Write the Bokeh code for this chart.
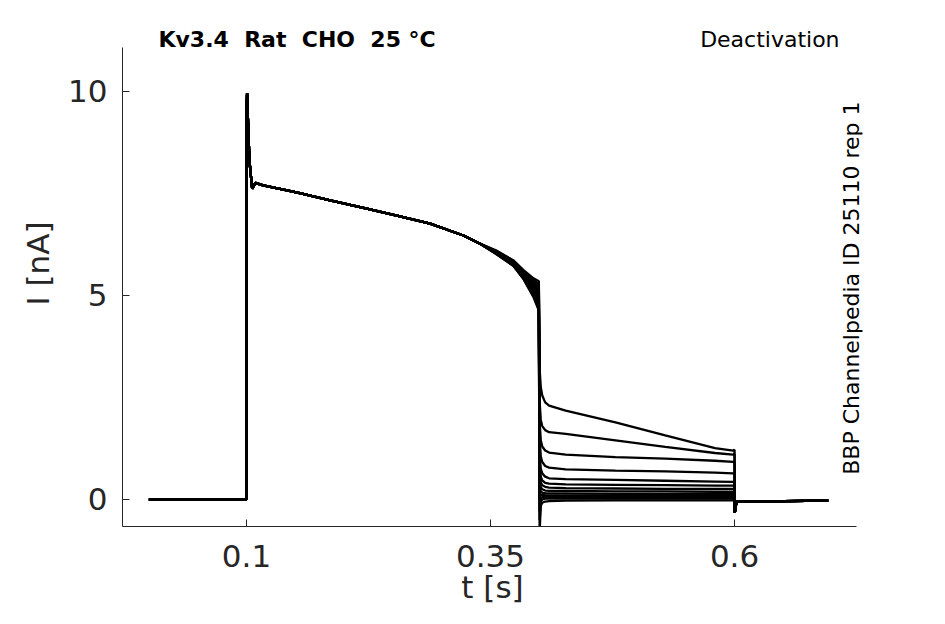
import math
from bokeh.plotting import figure
from bokeh.models import Label, FixedTicker, Range1d
from bokeh.embed import file_html
from bokeh.resources import INLINE

# ---------------- data ----------------
# holding period before the step
t_pre = [0.0, 0.048, 0.0485, 0.1]
i_pre = [0.0, -0.01, 0.0, 0.0]

# common activation phase (all sweeps overlap here)
t_act = [0.1002, 0.1006, 0.1012, 0.1030, 0.1058, 0.1092, 0.1171, 0.1512,
         0.1857, 0.2198, 0.2540, 0.2881, 0.3222, 0.3393]
i_act = [9.6, 9.95, 9.5, 8.3, 7.62, 7.76, 7.70, 7.53,
         7.33, 7.15, 6.96, 6.76, 6.47, 6.27]

# end of the activation phase, per sweep (band spreads out)
t_late = [0.356, 0.3735, 0.3838, 0.394, 0.3995]
i_late = [
    [6.10, 5.86, 5.62, 5.42, 5.35],
    [6.09, 5.85, 5.60, 5.38, 5.28],
    [6.08, 5.84, 5.58, 5.34, 5.20],
    [6.07, 5.82, 5.56, 5.30, 5.13],
    [6.06, 5.80, 5.54, 5.26, 5.06],
    [6.06, 5.79, 5.52, 5.22, 5.00],
    [6.05, 5.78, 5.50, 5.18, 4.94],
    [6.04, 5.77, 5.48, 5.14, 4.88],
    [6.04, 5.76, 5.46, 5.10, 4.82],
    [6.03, 5.75, 5.44, 5.06, 4.76],
    [6.02, 5.74, 5.42, 5.02, 4.70],
    [6.02, 5.73, 5.41, 4.99, 4.66],
    [6.01, 5.72, 5.40, 4.96, 4.63],
]

# deactivation tails, per sweep
t_tail = [0.4003, 0.4015, 0.403, 0.406, 0.41, 0.427, 0.478, 0.529, 0.58, 0.5985, 0.6]
i_tail = [
    [3.20, 2.75, 2.55, 2.38, 2.30, 2.18, 1.89, 1.57, 1.26, 1.20, 1.22],
    [2.40, 1.95, 1.80, 1.70, 1.65, 1.61, 1.45, 1.29, 1.14, 1.10, 1.12],
    [1.90, 1.45, 1.30, 1.20, 1.15, 1.10, 1.04, 1.00, 0.95, 0.92, 0.92],
    [1.50, 1.05, 0.92, 0.82, 0.78, 0.74, 0.71, 0.69, 0.66, 0.64, 0.64],
    [1.10, 0.75, 0.64, 0.56, 0.52, 0.50, 0.48, 0.46, 0.44, 0.43, 0.43],
    [0.90, 0.55, 0.47, 0.41, 0.39, 0.37, 0.36, 0.35, 0.34, 0.34, 0.34],
    [0.70, 0.42, 0.35, 0.31, 0.29, 0.28, 0.27, 0.26, 0.26, 0.26, 0.26],
    [0.50, 0.30, 0.25, 0.22, 0.21, 0.21, 0.20, 0.20, 0.19, 0.19, 0.19],
    [0.30, 0.20, 0.17, 0.15, 0.15, 0.15, 0.14, 0.14, 0.14, 0.14, 0.14],
    [0.00, 0.12, 0.11, 0.10, 0.10, 0.10, 0.10, 0.10, 0.10, 0.10, 0.10],
    [-0.30, 0.03, 0.06, 0.06, 0.06, 0.06, 0.06, 0.06, 0.06, 0.06, 0.06],
    [-0.50, -0.05, 0.00, 0.02, 0.02, 0.02, 0.02, 0.02, 0.02, 0.02, 0.02],
    [-0.80, -0.15, -0.08, -0.05, -0.04, -0.03, -0.02, -0.02, -0.02, -0.02, -0.02],
]

# after the step back to holding
t_post = [0.6003, 0.602, 0.696]
i_post = [-0.32, -0.05, -0.03]

x_ticks = [0.1, 0.35, 0.6]
x_tick_labels = ["0.1", "0.35", "0.6"]
y_ticks = [0, 5, 10]
y_tick_labels = ["0", "5", "10"]

title_text = "Kv3.4 \u00a0Rat \u00a0CHO \u00a025 °C"
protocol_text = "Deactivation"
id_text = "BBP Channelpedia ID 25110 rep 1"

# ---------------- figure ----------------
AX = "#262626"
FONT = "DejaVu Sans"

# visible axis extent
X_LO, X_HI = -0.02705, 0.7248
Y_LO, Y_HI = -0.6618, 11.078
# the frame extends past the axes (top, and a little right) so the annotations are not clipped
p = figure(width=929, height=608, output_backend="svg", toolbar_location=None,
           x_range=Range1d(X_LO, 0.7311), y_range=Range1d(Y_LO, 12.230),
           min_border_left=122, min_border_right=67,
           min_border_top=0, min_border_bottom=82)
p.outline_line_color = None
p.grid.visible = False
p.background_fill_color = "white"
p.border_fill_color = "white"

for k in range(len(i_late)):
    xs = t_pre + t_act + t_late + t_tail + t_post
    ys = i_pre + i_act + i_late[k] + i_tail[k] + i_post
    p.line(xs, ys, line_color="black", line_width=2.3)

for ax, ticks, labels in ((p.xaxis, x_ticks, x_tick_labels), (p.yaxis, y_ticks, y_tick_labels)):
    ax.ticker = FixedTicker(ticks=ticks)
    ax.major_label_overrides = {t: l for t, l in zip(ticks, labels)}
    ax.minor_tick_line_color = None
    ax.major_tick_in = 7
    ax.major_tick_out = 0
    ax.major_tick_line_color = AX
    ax.axis_line_color = AX
    ax.axis_line_width = 1
    ax.major_label_text_font = FONT
    ax.major_label_text_font_size = "31px"
    ax.major_label_text_color = AX
    ax.axis_label_text_font = FONT
    ax.axis_label_text_font_size = "31px"
    ax.axis_label_text_font_style = "normal"
    ax.axis_label_text_color = AX

p.xaxis.bounds = (X_LO, X_HI)
p.yaxis.bounds = (Y_LO, Y_HI)
p.xaxis.axis_label = "t [s]"
p.yaxis.axis_label = "I [nA]"
p.xaxis.major_label_standoff = 18
p.xaxis.axis_label_standoff = -1
p.yaxis.major_label_standoff = 15
p.yaxis.axis_label_standoff = 9

p.add_layout(Label(x=0.0098, y=11.27, text=title_text, text_font=FONT,
                   text_font_size="22px", text_font_style="bold",
                   text_color="black", text_align="left", text_baseline="middle"))
p.add_layout(Label(x=0.7076, y=11.27, text=protocol_text, text_font=FONT,
                   text_font_size="22px", text_color="black",
                   text_align="right", text_baseline="middle"))
p.add_layout(Label(x=0.7196, y=5.18, text=id_text, text_font=FONT,
                   text_font_size="22px", text_color="black", angle=math.pi / 2,
                   text_align="center", text_baseline="middle"))

open("out.html", "w").write(file_html(p, INLINE))
